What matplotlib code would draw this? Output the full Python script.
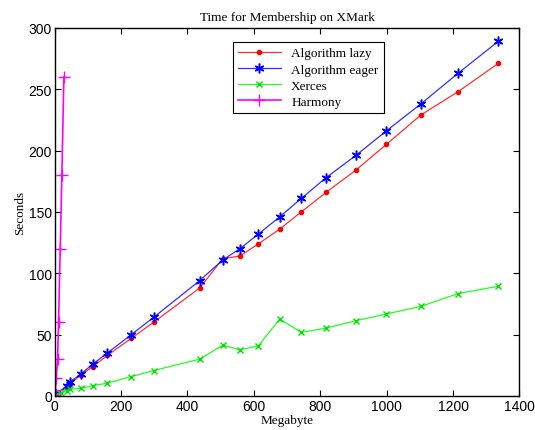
import matplotlib
matplotlib.use("Agg")
import matplotlib.pyplot as plt

# Algorithm lazy / eager share the same file sizes
mb_alg = [3, 36, 46, 80, 115, 159, 231, 298, 437, 507, 558, 614, 678, 743,
          818, 907, 999, 1103, 1215, 1336]
lazy = [1, 7, 10, 17, 24, 33, 47, 60, 88, 112, 114, 124, 136, 150,
        166, 184, 205, 229, 248, 271]
eager = [1.4, 8, 11.5, 18, 26, 35, 50, 64, 94, 111, 120, 132, 146, 161,
         178, 196, 216, 238, 263, 289]

mb_xerces = [3, 20, 36, 46, 80, 115, 159, 231, 298, 437, 507, 558, 614, 678,
             743, 818, 907, 999, 1103, 1215, 1336]
xerces = [0.5, 2.5, 4.4, 5.4, 6.3, 8.4, 10.4, 15.8, 20.7, 30, 41.4, 37.6,
          40.9, 62.7, 51.8, 55.3, 61.3, 66.8, 73, 83.4, 89.4]

mb_harmony = [1, 2, 5, 9, 12, 17, 22, 28]
harmony = [1, 5, 15, 30, 60, 120, 180, 260]

fig = plt.figure(figsize=(5.35, 4.31), dpi=100)
ax = fig.add_axes([0.102, 0.079, 0.869, 0.854])

ax.plot(mb_alg, lazy, '-', color='#ff3030', lw=0.9, marker='.', markersize=6,
        markeredgecolor='red', markerfacecolor='red', label='Algorithm lazy')
ax.plot(mb_alg, eager, '-', color='#3030ff', lw=0.9, marker=(6, 2, 0), markersize=7,
        markeredgecolor='blue', markeredgewidth=1.1, label='Algorithm eager')
ax.plot(mb_xerces, xerces, '-', color='#20ff20', lw=0.9, marker='x', markersize=4,
        markeredgecolor='#00e000', label='Xerces')
ax.plot(mb_harmony, harmony, '-', color='#ff00ff', lw=1.2, marker='+', markersize=8,
        label='Harmony')

ax.set_xlim(0, 1400)
ax.set_ylim(0, 300)
ax.set_xticks(range(0, 1401, 200))
ax.set_yticks(range(0, 301, 50))
ax.tick_params(direction='in', top=True, right=True, length=4, width=0.8,
               labelsize=10, pad=2)
for lab in ax.get_xticklabels() + ax.get_yticklabels():
    lab.set_fontfamily('Liberation Sans')
for s in ax.spines.values():
    s.set_linewidth(1.0)

serif = 'Liberation Serif'
ax.set_title('Time for Membership on XMark', fontsize=9.5, family=serif, pad=6)
ax.set_xlabel('Megabyte', fontsize=9.5, family=serif, labelpad=1)
ax.set_ylabel('Seconds', fontsize=9.5, family=serif, labelpad=2)

leg = ax.legend(loc='upper left', bbox_to_anchor=(0.384, 0.962), borderaxespad=0,
                prop={'family': serif, 'size': 9.5}, fancybox=False,
                edgecolor='black', framealpha=1, handlelength=3.2,
                labelspacing=0.3, borderpad=0.4)
leg.get_frame().set_linewidth(0.8)

fig.savefig('out.png', dpi=100)
